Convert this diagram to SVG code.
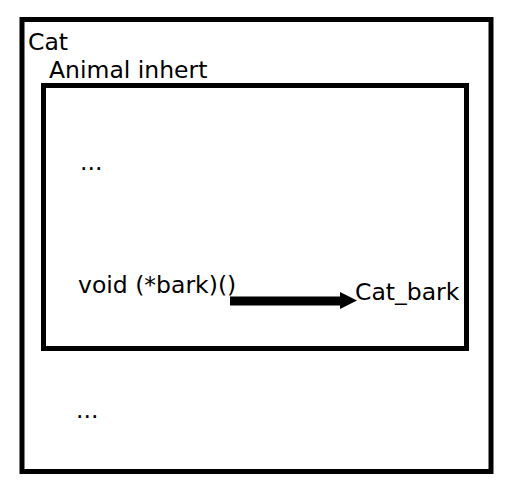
<svg xmlns="http://www.w3.org/2000/svg" width="518" height="499" viewBox="0 0 518 499">
<style>
.box{fill:none;stroke:#000;stroke-width:5}
text{font-family:"DejaVu Sans",sans-serif;font-size:23.5px;fill:#000}
</style>
<rect width="518" height="499" fill="#fff"/>
<g id="cat">
<rect class="box" x="22" y="19.5" width="469" height="452"/>
<text x="28" y="50">Cat</text>
<text x="76" y="418">...</text>
</g>
<g id="animal">
<rect class="box" x="43.5" y="85.5" width="423" height="263"/>
<text x="49" y="78">Animal inhert</text>
<text x="80" y="170">...</text>
<text x="78" y="293">void (*bark)()</text>
</g>
<g id="cat_bark">
<text x="355" y="300">Cat_bark</text>
</g>
<g id="connectors">
<line x1="230" y1="301" x2="341" y2="301" stroke="#000" stroke-width="9"/>
<path d="M340,292 L357,300.5 L340,309 Z" fill="#000"/>
</g>
</svg>
